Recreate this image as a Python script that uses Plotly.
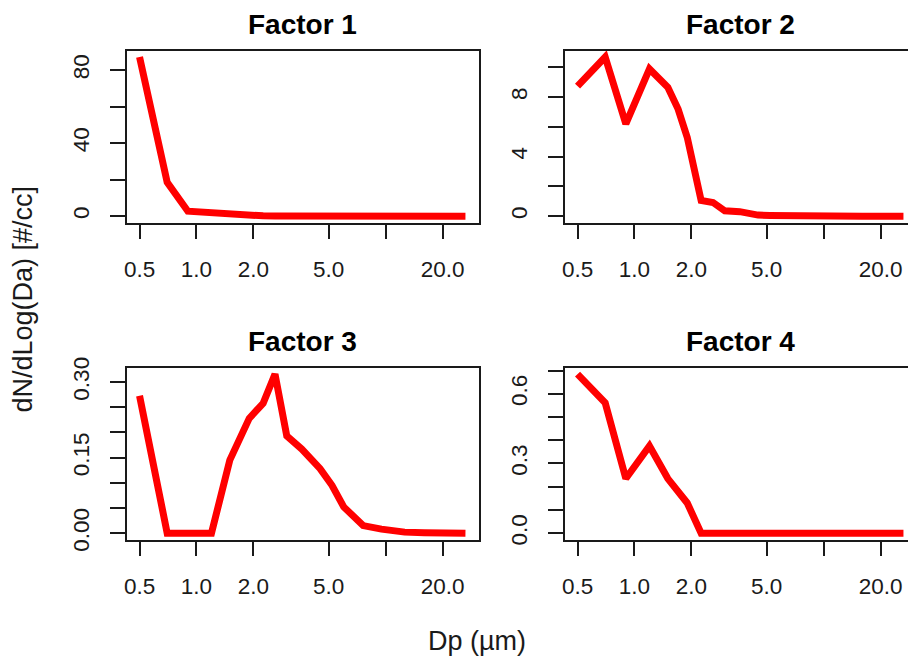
import math
import plotly.graph_objects as go

# Particle diameter bins (µm) and factor size distributions
dp_um = [0.5, 0.7, 0.9, 1.2, 1.5, 1.7, 1.9, 2.25, 2.6, 3.0, 3.6, 4.5,
         5.2, 6.0, 6.8, 7.6, 9.5, 12.6, 16.0, 20.0, 26.4]

factor1 = [87.2, 18.6, 2.7, 1.9, 0.4, 0.3, 0.2, 0.15, 0.1, 0.08, 0.05, 0.03,
           0.02, 0.01, 0.01, 0.0, 0.0, 0.0, 0.0, 0.0, 0.0]
factor2 = [8.74, 10.7, 6.2, 9.9, 8.67, 7.2, 5.3, 1.05, 0.92, 0.36, 0.3, 0.07,
           0.05, 0.03, 0.02, 0.01, 0.01, 0.0, 0.0, 0.0, 0.0]
factor3 = [0.273, 0.0, 0.0, 0.0, 0.145, 0.185, 0.228, 0.258, 0.316, 0.193, 0.167,
           0.128, 0.095, 0.052, 0.031, 0.015, 0.008, 0.002, 0.001, 0.0, 0.0]
factor4 = [0.685, 0.561, 0.235, 0.375, 0.235, 0.18, 0.13, 0.0, 0.0, 0.0, 0.0, 0.0,
           0.0, 0.0, 0.0, 0.0, 0.0, 0.0, 0.0, 0.0, 0.0]

panel_titles = ["Factor 1", "Factor 2", "Factor 3", "Factor 4"]
series = [factor1, factor2, factor3, factor4]

x_tickvals = [0.5, 1, 2, 5, 10, 20]
x_ticktext = ["0.5", "1.0", "2.0", "5.0", "", "20.0"]

y_ticks = [
    ([0, 20, 40, 60, 80], ["0", "", "40", "", "80"]),
    ([0, 2, 4, 6, 8, 10], ["0", "", "4", "", "8", ""]),
    ([0, 0.05, 0.10, 0.15, 0.20, 0.25, 0.30], ["0.00", "", "", "0.15", "", "", "0.30"]),
    ([0, 0.1, 0.2, 0.3, 0.4, 0.5, 0.6, 0.7], ["0.0", "", "", "0.3", "", "", "0.6", ""]),
]

W, H = 908, 656
FONT = "Liberation Sans, Arial, sans-serif"
INK = "#1a1a1a"

# Panel boxes in pixels: (left, top, right, bottom); right column runs past the page edge
boxes = [
    (126.5, 50.7, 478.5, 222.5),
    (564.5, 50.7, 916.5, 222.5),
    (126.5, 367.7, 478.5, 539.5),
    (564.5, 367.7, 916.5, 539.5),
]


def padded(lo, hi, frac=0.04):
    d = hi - lo
    return lo - frac * d, hi + frac * d


fig = go.Figure()
x_lo, x_hi = padded(math.log10(min(dp_um)), math.log10(max(dp_um)))

for i, (ys, title) in enumerate(zip(series, panel_titles)):
    n = "" if i == 0 else str(i + 1)
    left, top, right, bottom = boxes[i]
    vis_right = min(right, W)
    frac = (vis_right - left) / (right - left)
    xr = [x_lo, x_lo + (x_hi - x_lo) * frac]
    yr = list(padded(min(ys), max(ys)))
    clipped = right > W

    fig.add_trace(go.Scatter(
        x=dp_um, y=ys, mode="lines",
        line=dict(color="#ff0000", width=7),
        xaxis="x" + n, yaxis="y" + n, showlegend=False, hoverinfo="skip",
    ))

    tv, tt = y_ticks[i]
    fig.layout["xaxis" + n] = dict(
        type="log", range=xr, domain=[left / W, vis_right / W],
        anchor="y" + n, tickvals=x_tickvals, ticktext=x_ticktext,
        ticks="outside", ticklen=15, tickwidth=1.6, tickcolor=INK,
        showline=True, linecolor=INK, linewidth=1.6, mirror=True,
        showgrid=False, zeroline=False, ticklabelstandoff=11,
        automargin=False,
        tickfont=dict(family=FONT, size=22.5, color=INK),
    )
    fig.layout["yaxis" + n] = dict(
        range=yr, domain=[1 - bottom / H, 1 - top / H],
        anchor="x" + n, tickvals=tv, ticktext=tt, tickangle=-90,
        ticks="outside", ticklen=15, tickwidth=1.6, tickcolor=INK,
        showline=True, linecolor=INK, linewidth=1.6, mirror=not clipped,
        showgrid=False, zeroline=False, ticklabelstandoff=12,
        automargin=False,
        tickfont=dict(family=FONT, size=22.5, color=INK),
    )
    fig.add_annotation(
        text="<b>" + title + "</b>", xref="paper", yref="paper",
        x=(left + right) / 2 / W, y=1 - (top - 26.5) / H,
        xanchor="center", yanchor="middle", showarrow=False,
        font=dict(family=FONT, size=28, color="#000000"),
    )

fig.add_annotation(
    text="dN/dLog(Da) [#/cc]", xref="paper", yref="paper",
    x=22.5 / W, y=1 - 299 / H, textangle=-90,
    xanchor="center", yanchor="middle", showarrow=False,
    font=dict(family=FONT, size=27, color=INK),
)
fig.add_annotation(
    text="Dp (µm)", xref="paper", yref="paper",
    x=477 / W, y=1 - 641 / H,
    xanchor="center", yanchor="middle", showarrow=False,
    font=dict(family=FONT, size=27, color=INK),
)

fig.update_layout(
    width=W, height=H, margin=dict(l=0, r=0, t=0, b=0, pad=0),
    paper_bgcolor="white", plot_bgcolor="white", showlegend=False,
)

fig.write_html("out.html", config={"displayModeBar": False})
